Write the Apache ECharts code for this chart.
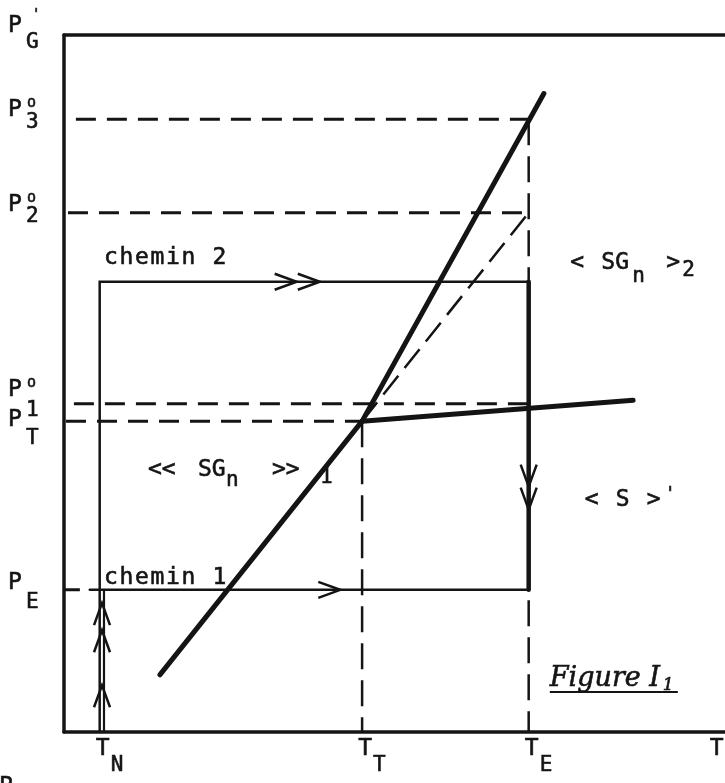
<!DOCTYPE html>
<html>
<head>
<meta charset="utf-8">
<script src="https://cdn.jsdelivr.net/npm/echarts@6/dist/echarts.min.js"></script>
<style>
  html, body { margin: 0; background: #fff; }
  #chart { width: 725px; height: 783px; }
</style>
</head>
<body>
<div id="chart"></div>
<script>
// temperatures (abscissa, arbitrary units 0-100)
const T_N = 5.4, T_T = 45.1, T_E = 70.3
const T_C1 = 6.05            // second (chemin 1) vertical at T_N
// pressures (ordinate, arbitrary units 0-100)
const P_G = 100, P3 = 87.9, P2 = 74.5, P1 = 47.1, P_T = 44.6, P_E = 20.4
const P_C2 = 64.6            // level of chemin 2

const xTickValues = [T_N, T_T, T_E, 98.3]
const xTickSubs = ['N', 'T', 'E', '']
const yTickValues = [P_G, P3, P2, P1, P_T, P_E]
const yTickSups = ["'", '°', '°', '°', '', '']
const yTickSubs = ['G', '3', '2', '1', 'T', 'E']

// equilibrium lines
const lowBranch = [[14.5, 8.2], [T_T, P_T]]
const highBranch = [[T_T, P_T], [72.6, 91.6]]
const flatBranch = [[T_T, P_T], [86.1, 47.6]]
const extrapolated = [[T_T, P_T], [T_E, P2]]

// paths
const chemin1Up = [[T_C1, 0], [T_C1, P_E]]
const chemin1Across = [[3.9, P_E], [T_E, P_E]]
const chemin2Up = [[T_N, 0], [T_N, P_C2], [T_E, P_C2]]
const chemin2Down = [[T_E, P_C2], [T_E, P_E]]

// dashed guides
const guideP3 = [[1.8, P3], [T_E, P3]]
const guideP2 = [[0.6, P2], [T_E, P2]]
const guideP1 = [[1.5, P1], [T_E, P1]]
const guidePT = [[0.3, P_T], [T_T, P_T]]
const guidePE = [[0, P_E], [2.4, P_E]]
const guideTT = [[T_T, P_T], [T_T, 0]]
const guideTE = [[T_E, P3], [T_E, 0]]

// arrow tips
const arrowsRight = [[35.2, P_C2], [38.7, P_C2], [41.8, P_E]]
const arrowsDown = [[T_E, 35.2], [T_E, 31.9]]
const arrowsUp = [[5.75, 18.5], [5.75, 14.6], [5.75, 6.7]]

const INK = '#141414'
const MONO = '"DejaVu Sans Mono", "Liberation Mono", monospace'

function seg(data, width, dash, z) {
  return {
    type: 'line', data, symbol: 'none', silent: true, z: z || 2,
    lineStyle: { color: INK, width, type: dash || 'solid', cap: dash ? 'butt' : 'round', join: 'miter' }
  }
}

const arrowData = []
arrowsRight.forEach(p => arrowData.push([p[0], p[1], 1, 0]))
arrowsDown.forEach(p => arrowData.push([p[0], p[1], 0, 1]))
arrowsUp.forEach(p => arrowData.push([p[0], p[1], 0, -1]))

const chart = echarts.init(document.getElementById('chart'))

chart.setOption({
  animation: false,
  backgroundColor: '#fff',
  grid: { left: 64, right: 0, top: 35, bottom: 51 },
  xAxis: [
    {
      type: 'value', min: 0, max: 100, position: 'bottom',
      axisLine: { lineStyle: { color: INK, width: 3.5 } },
      axisTick: { show: false }, axisLabel: { show: false }, splitLine: { show: false }
    },
    {
      type: 'value', min: 0, max: 100, position: 'top',
      axisLine: { lineStyle: { color: INK, width: 3.5 } },
      axisTick: { show: false }, axisLabel: { show: false }, splitLine: { show: false }
    }
  ],
  yAxis: {
    type: 'value', min: 0, max: 100,
    axisLine: { show: true, lineStyle: { color: INK, width: 3.5 } },
    axisTick: { show: false }, axisLabel: { show: false }, splitLine: { show: false }
  },
  series: [
    seg(guideP3, 3, [20, 11]),
    seg(guideP2, 3, [20, 11]),
    seg(guideP1, 3, [20, 11]),
    seg(guidePT, 3, [20, 11]),
    seg(guidePE, 3, [16, 8]),
    seg(guideTT, 2.5, [26, 11]),
    seg(guideTE, 2.5, [26, 11]),
    seg(extrapolated, 2.5, [24, 10]),
    seg(chemin1Up, 2.2),
    seg(chemin1Across, 2.5),
    seg(chemin2Up, 2.5),
    seg(chemin2Down, 4.5, null, 3),
    seg(lowBranch, 5, null, 4),
    seg(highBranch, 5, null, 4),
    seg(flatBranch, 5, null, 4),
    {
      type: 'custom', silent: true, z: 5,
      data: arrowData,
      encode: { x: 0, y: 1 },
      renderItem(params, api) {
        const tip = api.coord([api.value(0), api.value(1)])
        const dx = api.value(2), dy = api.value(3)
        const L = 22, hw = 8
        const px = -dy, py = dx
        return {
          type: 'polyline',
          shape: {
            points: [
              [tip[0] - dx * L + px * hw, tip[1] - dy * L + py * hw],
              [tip[0], tip[1]],
              [tip[0] - dx * L - px * hw, tip[1] - dy * L - py * hw]
            ]
          },
          style: { stroke: INK, lineWidth: 2.5, fill: null }
        }
      }
    }
  ]
})

// ---- text (labels + annotations) ----
function txt(s, x, y, size, opts) {
  opts = opts || {}
  return {
    type: 'text', x, y, silent: true, z: 10,
    style: {
      text: s, fill: INK, stroke: INK, lineWidth: 0.6,
      font: (opts.italic ? 'italic ' : '') + size + 'px ' + (opts.family || MONO),
      align: opts.align || 'left', verticalAlign: 'middle'
    }
  }
}
// typewriter spacing: one glyph per cell
function spaced(s, x, y, size, pitch, opts) {
  const out = []
  for (let i = 0; i < s.length; i++) {
    if (s[i] !== ' ') out.push(txt(s[i], x + i * pitch, y, size, opts))
  }
  return out
}
const toPx = p => chart.convertToPixel({ gridIndex: 0 }, p)

const els = []
// y labels
const pShift = [-9, -9, -8, -14, -1, -7]
const subShift = [17, 12, 12, 21, 18, 20]
yTickValues.forEach((v, i) => {
  const yc = toPx([0, v])[1] + pShift[i]
  els.push(txt('P', 8, yc, 23))
  if (yTickSups[i] === "'") els.push(txt("'", 32, yc - 12, 14))
  else if (yTickSups[i]) els.push(txt('o', 27, yc - 7, 15))
  els.push(txt(yTickSubs[i], 26, yc + subShift[i], 21))
})
// x labels
xTickValues.forEach((v, i) => {
  const xc = toPx([v, 0])[0]
  els.push(txt('T', xc + 3, 749, 23, { align: 'center' }))
  if (xTickSubs[i]) els.push(txt(xTickSubs[i], xc + 11, 766, 21))
})
// cut-off letter at the bottom edge
els.push(txt('P', -1, 787, 23))

// annotations anchored on data points
const a1 = toPx([6.05, 68.0])
els.push(...spaced('chemin 2', a1[0], a1[1], 23, 15.5))
const a2 = toPx([6.05, 22.1])
els.push(...spaced('chemin 1', a2[0], a2[1], 23, 15.5))

const a3 = toPx([12.7, 37.6])
els.push(txt('<<', a3[0], a3[1], 23), txt('SG', a3[0] + 50, a3[1], 23),
  txt('n', a3[0] + 78, a3[1] + 11, 21), txt('>>', a3[0] + 124, a3[1], 23),
  txt('1', a3[0] + 172, a3[1] + 8, 21))

const a4 = toPx([76.6, 67.3])
els.push(txt('<', a4[0], a4[1], 23), txt('SG', a4[0] + 31, a4[1], 23),
  txt('n', a4[0] + 62, a4[1] + 14, 21), txt('>', a4[0] + 96, a4[1], 23),
  txt('2', a4[0] + 112, a4[1] + 8, 21))

const a5 = toPx([78.8, 33.3])
els.push(txt('<', a5[0], a5[1], 23), txt('S', a5[0] + 31, a5[1], 23),
  txt('>', a5[0] + 62, a5[1], 23), txt("'", a5[0] + 80, a5[1] - 6, 18))

const a6 = toPx([73.5, 7.6])
const serifIt = { italic: true, family: '"DejaVu Serif", serif' }
els.push(txt('Figure I', a6[0], a6[1], 27, serifIt))
els.push(txt('1', a6[0] + 113, a6[1] + 7, 17, serifIt))
els.push({
  type: 'line', silent: true, z: 10,
  shape: { x1: a6[0], y1: a6[1] + 13, x2: a6[0] + 128, y2: a6[1] + 13 },
  style: { stroke: INK, lineWidth: 2 }
})

chart.setOption({ graphic: { elements: els } })
</script>
</body>
</html>
